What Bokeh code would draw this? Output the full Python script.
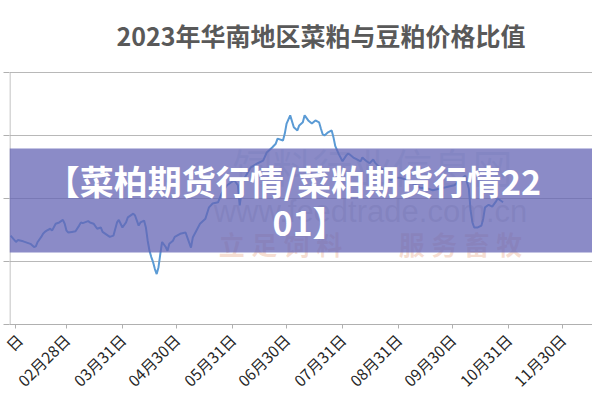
import numpy as np
import pandas as pd
from bokeh.plotting import figure
from bokeh.models import Range1d, FixedTicker, DatetimeTickFormatter, BoxAnnotation, Label
from bokeh.embed import file_html
from bokeh.resources import INLINE

# ---------------- data ----------------
dates = [
    "2023-01-28", "2023-01-31", "2023-02-01", "2023-02-04", "2023-02-06", "2023-02-08",
    "2023-02-10", "2023-02-11", "2023-02-12", "2023-02-14", "2023-02-15", "2023-02-16",
    "2023-02-17", "2023-02-19", "2023-02-20", "2023-02-22", "2023-02-24", "2023-02-26",
    "2023-02-27", "2023-02-28", "2023-03-01", "2023-03-03", "2023-03-05", "2023-03-07",
    "2023-03-08", "2023-03-09", "2023-03-12", "2023-03-13", "2023-03-15", "2023-03-17",
    "2023-03-19", "2023-03-20", "2023-03-23", "2023-03-24", "2023-03-26", "2023-03-28",
    "2023-03-29", "2023-03-30", "2023-03-31", "2023-04-02", "2023-04-03", "2023-04-06",
    "2023-04-07", "2023-04-08", "2023-04-09", "2023-04-10", "2023-04-12", "2023-04-13",
    "2023-04-14", "2023-04-15", "2023-04-16", "2023-04-17", "2023-04-18", "2023-04-19",
    "2023-04-20", "2023-04-21", "2023-04-22", "2023-04-24", "2023-04-25", "2023-04-26",
    "2023-04-28", "2023-04-29", "2023-05-02", "2023-05-05", "2023-05-07", "2023-05-08",
    "2023-05-09", "2023-05-13", "2023-05-16", "2023-05-18", "2023-05-20", "2023-05-23",
    "2023-05-25", "2023-05-28", "2023-06-01", "2023-06-03", "2023-06-04", "2023-06-06",
    "2023-06-10", "2023-06-14", "2023-06-17", "2023-06-19", "2023-06-22", "2023-06-24",
    "2023-06-25", "2023-06-28", "2023-06-29", "2023-06-30", "2023-07-02", "2023-07-04",
    "2023-07-06", "2023-07-07", "2023-07-09", "2023-07-10", "2023-07-12", "2023-07-14",
    "2023-07-16", "2023-07-18", "2023-07-19", "2023-07-20", "2023-07-21", "2023-07-23",
    "2023-07-25", "2023-07-26", "2023-07-27", "2023-07-29", "2023-07-31", "2023-08-02",
    "2023-08-03", "2023-08-04", "2023-08-06", "2023-08-08", "2023-08-10", "2023-08-11",
    "2023-08-13", "2023-08-15", "2023-08-17", "2023-08-18", "2023-08-20", "2023-08-23",
    "2023-08-25", "2023-08-27", "2023-08-28", "2023-09-01", "2023-09-05", "2023-09-08",
    "2023-09-12", "2023-09-16", "2023-09-19", "2023-09-25", "2023-10-01", "2023-10-04",
    "2023-10-07", "2023-10-09", "2023-10-10", "2023-10-11", "2023-10-12", "2023-10-14",
    "2023-10-16", "2023-10-17", "2023-10-18", "2023-10-20", "2023-10-22", "2023-10-24",
    "2023-10-25", "2023-10-28",
]
ratio = [
    0.741, 0.731, 0.734, 0.732, 0.730, 0.728,
    0.723, 0.724, 0.731, 0.739, 0.744, 0.747,
    0.749, 0.752, 0.749, 0.760, 0.762, 0.766,
    0.760, 0.749, 0.746, 0.747, 0.748, 0.757,
    0.762, 0.761, 0.764, 0.762, 0.760, 0.752,
    0.754, 0.747, 0.741, 0.739, 0.741, 0.762,
    0.766, 0.760, 0.754, 0.762, 0.770, 0.776,
    0.773, 0.765, 0.757, 0.762, 0.765, 0.754,
    0.733, 0.717, 0.707, 0.699, 0.688, 0.680,
    0.691, 0.712, 0.731, 0.723, 0.717, 0.728,
    0.733, 0.739, 0.744, 0.746, 0.730, 0.722,
    0.738, 0.760, 0.768, 0.786, 0.792, 0.794,
    0.808, 0.821, 0.829, 0.821, 0.789, 0.829,
    0.849, 0.856, 0.860, 0.873, 0.881, 0.887,
    0.895, 0.892, 0.903, 0.919, 0.932, 0.913,
    0.908, 0.916, 0.921, 0.932, 0.924, 0.919,
    0.924, 0.921, 0.911, 0.902, 0.900, 0.905,
    0.908, 0.897, 0.883, 0.870, 0.859, 0.868,
    0.871, 0.870, 0.865, 0.862, 0.859, 0.865,
    0.860, 0.856, 0.862, 0.857, 0.851, 0.844,
    0.833, 0.829, 0.833, 0.833, 0.829, 0.824,
    0.817, 0.816, 0.813, 0.817, 0.821, 0.829,
    0.836, 0.816, 0.781, 0.762, 0.754, 0.754,
    0.757, 0.768, 0.786, 0.790, 0.787, 0.795,
    0.800, 0.794,
]
tick_dates = ["2023-01-31", "2023-02-28", "2023-03-31", "2023-04-30", "2023-05-31", "2023-06-30",
              "2023-07-31", "2023-08-31", "2023-09-30", "2023-10-31", "2023-11-30", "2023-12-31"]
# first label is cut off by the left edge in the original: only its last character shows
tick_labels = ["日", "02月28日", "03月31日", "04月30日", "05月31日", "06月30日",
               "07月31日", "08月31日", "09月30日", "10月31日", "11月30日", "12月31日"]
y_ticks = [0.6, 0.7, 0.8, 0.9, 1.0]
title_text = "2023年华南地区菜粕与豆粕价格比值"
banner_lines = ["【菜柏期货行情/菜粕期货行情22", "01】"]
watermark_top = "饲料行业信息网"
watermark_url = "www.feedtrade.com.cn"
watermark_slogan = ["立\u2005足\u2005饲\u2005料", "服\u2005务\u2005畜\u2005牧"]

# ---------------- layout helpers ----------------
FONT = "Noto Sans CJK SC"
FRAME_L, GRID_T, FRAME_B = 9, 72, 324     # picture px: frame left, top gridline, x axis
CANVAS_TOP_FRAME = 14                      # frame extends up to here so the title can sit inside
FRAME_W = 583
PX_PER_DAY = 1.804
y_lo, y_hi = y_ticks[0], y_ticks[-1]

def yv(py):  # picture y -> data value
    return y_lo + (FRAME_B - py) * (y_hi - y_lo) / (FRAME_B - GRID_T)

def sx(px):  # picture x -> screen x relative to frame left
    return px - FRAME_L

def sy(py):  # picture y -> screen y relative to frame bottom
    return FRAME_B - py

x = pd.to_datetime(dates)
x_start = pd.Timestamp("2023-01-01") + pd.Timedelta(days=26.4)
x_end = x_start + pd.Timedelta(days=FRAME_W / PX_PER_DAY)

p = figure(frame_width=FRAME_W, frame_height=FRAME_B - CANVAS_TOP_FRAME,
           x_axis_type="datetime",
           x_range=Range1d(x_start, x_end), y_range=Range1d(y_lo, yv(CANVAS_TOP_FRAME)),
           output_backend="svg", toolbar_location=None,
           min_border_left=FRAME_L, min_border_right=0, min_border_top=CANVAS_TOP_FRAME,
           min_border_bottom=0,
           background_fill_color="white", border_fill_color="white")
p.outline_line_color = None
p.title.text = ""
p.title.visible = False

# grid
p.xgrid.visible = False
p.ygrid.ticker = FixedTicker(ticks=y_ticks)
p.ygrid.grid_line_color = "#b8b8b8"
p.ygrid.grid_line_width = 1

# y axis: outward ticks only (its labels are cut off in the original); line drawn below
p.yaxis.ticker = FixedTicker(ticks=y_ticks)
p.yaxis.major_label_overrides = {t: "" for t in y_ticks}
p.yaxis.major_label_standoff = 0
p.yaxis.major_tick_out = 6
p.yaxis.major_tick_in = 0
p.yaxis.minor_tick_line_color = None
p.yaxis.axis_line_color = None
p.yaxis.major_tick_line_color = "#b0b0b0"
p.add_layout(BoxAnnotation(left=x_start, right=x_start + pd.Timedelta(days=1.0 / PX_PER_DAY),
                           bottom=y_lo, top=y_hi, fill_color="#b0b0b0", fill_alpha=1.0,
                           line_color=None, level="underlay"))

# x axis
tick_ms = [float(t.value // 10**6) for t in pd.to_datetime(tick_dates)]
p.xaxis.ticker = FixedTicker(ticks=tick_ms)
fmt = "%m月%d日"
p.xaxis.formatter = DatetimeTickFormatter(days=fmt, months=fmt, years=fmt, hours=fmt,
                                          hourmin=fmt, minutes=fmt, minsec=fmt, seconds=fmt,
                                          milliseconds=fmt, microseconds=fmt)
p.xaxis.major_label_overrides = {ms: lab for ms, lab in zip(tick_ms, tick_labels)}
p.xaxis.axis_line_color = "#b0b0b0"
p.xaxis.major_tick_line_color = "#b0b0b0"
p.xaxis.major_tick_out = 4
p.xaxis.major_tick_in = 0
p.xaxis.minor_tick_line_color = None
p.xaxis.major_label_orientation = np.pi / 4
p.xaxis.major_label_text_font = FONT
p.xaxis.major_label_text_font_size = "15.5px"
p.xaxis.major_label_text_color = "#262626"
p.xaxis.major_label_standoff = 8

# data line
p.line(x, ratio, line_color="#5b9bd5", line_width=2)

# title (inside the extended frame, above the top gridline)
p.add_layout(Label(x=sx(116), y=sy(34), x_units="screen", y_units="screen", text=title_text,
                   text_align="left", text_baseline="middle", text_font=FONT,
                   text_font_size="25px", text_font_style="bold", text_color="#595959"))

# faint watermarks
p.add_layout(Label(x=sx(372), y=sy(165), x_units="screen", y_units="screen", text=watermark_top,
                   text_align="center", text_baseline="middle", text_font=FONT,
                   text_font_size="40px", text_color="#7f9fb0", text_alpha=0.22))
p.add_layout(Label(x=sx(370), y=sy(211), x_units="screen", y_units="screen", text=watermark_url,
                   text_align="center", text_baseline="middle", text_font="Liberation Sans",
                   text_font_size="31px", text_color="#909090", text_alpha=0.3))
p.add_layout(Label(x=sx(280), y=sy(243), x_units="screen", y_units="screen", text=watermark_slogan[0],
                   text_align="center", text_baseline="middle", text_font=FONT,
                   text_font_size="26px", text_font_style="bold", text_color="#e08a60", text_alpha=0.28))
p.add_layout(Label(x=sx(460), y=sy(243), x_units="screen", y_units="screen", text=watermark_slogan[1],
                   text_align="center", text_baseline="middle", text_font=FONT,
                   text_font_size="26px", text_font_style="bold", text_color="#e08a60", text_alpha=0.28))

# banner
p.add_layout(BoxAnnotation(top=yv(148), bottom=yv(252), fill_color="#6464b4", fill_alpha=0.75,
                           line_color=None))
p.add_layout(Label(x=sx(293), y=sy(180), x_units="screen", y_units="screen", text=banner_lines[0],
                   text_align="center", text_baseline="middle", text_font=FONT,
                   text_font_size="34px", text_font_style="bold", text_color="white"))
p.add_layout(Label(x=sx(309), y=sy(221), x_units="screen", y_units="screen", text=banner_lines[1],
                   text_align="center", text_baseline="middle", text_font=FONT,
                   text_font_size="34px", text_font_style="bold", text_color="white"))

open("out.html", "w").write(file_html(p, INLINE))
